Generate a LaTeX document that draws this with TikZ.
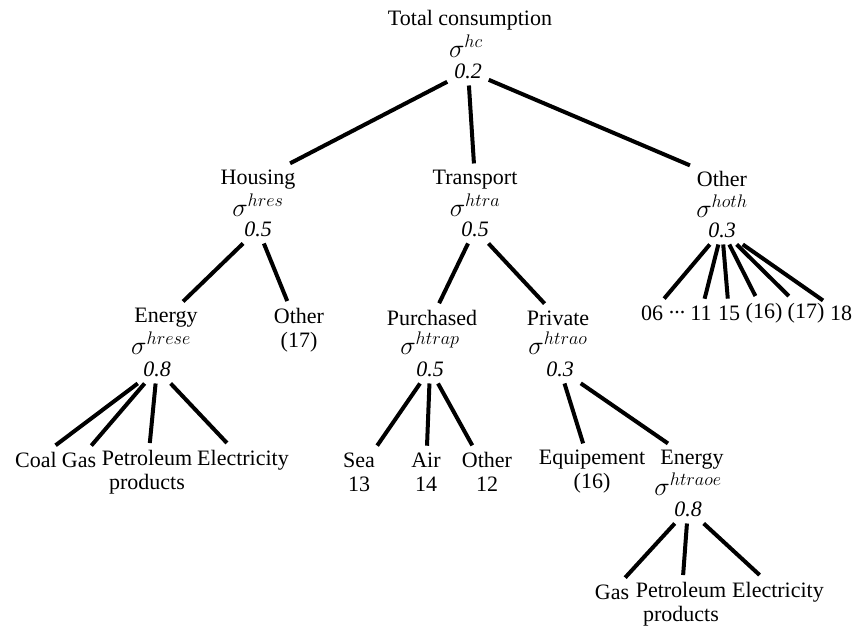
\documentclass[tikz,border=0pt]{standalone}
\usepackage{fix-cm}
\usepackage{fontspec}
\setmainfont{Liberation Serif}
\begin{document}
\begin{tikzpicture}[x=1pt,y=-1pt,line width=4pt,
    every node/.style={font=\fontsize{22}{24}\selectfont,inner sep=1pt,outer sep=6pt},
    two/.style={align=center},
    sig/.style={font=\fontsize{26}{28}\selectfont}]
    \useasboundingbox (0,0) rectangle (857,630);
    % top
    \node (tot)  at (470,20) {Total consumption};
    \node[sig] (totS) at (466,46) {$\sigma^{hc}$};
    \node (totV) at (468,71) {\textit{0.2}};
    % second level
    \node (hou)  at (258,180) {Housing};
    \node[sig] (houS) at (258,205) {$\sigma^{hres}$};
    \node (houV) at (258,229) {\textit{0.5}};
    \node (tra)  at (475,180) {Transport};
    \node[sig] (traS) at (475,205) {$\sigma^{htra}$};
    \node (traV) at (475,229) {\textit{0.5}};
    \node (oth)  at (722,179) {Other};
    \node[sig] (othS) at (722,206) {$\sigma^{hoth}$};
    \node (othV) at (722,230) {\textit{0.3}};
    % third level
    \node (hen)  at (166,318) {Energy};
    \node[sig] (henS) at (161,343) {$\sigma^{hrese}$};
    \node (henV) at (157,369) {\textit{0.8}};
    \node[two] (hot) at (299,330) {Other\\(17)};
    \node (pur)  at (432,318) {Purchased};
    \node[sig] (purS) at (430,343) {$\sigma^{htrap}$};
    \node (purV) at (430,369) {\textit{0.5}};
    \node (pri)  at (558,318) {Private};
    \node[sig] (priS) at (558,343) {$\sigma^{htrao}$};
    \node (priV) at (560,369) {\textit{0.3}};
    \node (o06)  at (652,313) {06};
    \node (dots) at (677,313) {.\kern0pt.\kern0pt.};
    \node (o11)  at (701,313) {11};
    \node (o15)  at (729,313) {15};
    \node (o16)  at (764,313) {(16)};
    \node (o17)  at (806,313) {(17)};
    \node (o18)  at (841,313) {18};
    % leaves
    \node (coal) at (36,460) {Coal};
    \node (gas)  at (79,460) {Gas};
    \node[two] (pet) at (147,472) {Petroleum\\products};
    \node (ele)  at (243,460) {Electricity};
    \node[two] (sea) at (359,472) {Sea\\13};
    \node[two] (air) at (426,472) {Air\\14};
    \node[two] (pot) at (487,472) {Other\\12};
    \node[two] (equ) at (592,472) {Equipement\\(16)};
    \node (ten)  at (692,460) {Energy};
    \node[sig] (tenS) at (688,484) {$\sigma^{htraoe}$};
    \node (tenV) at (688,509) {\textit{0.8}};
    \node (tgas) at (612,592) {Gas};
    \node[two] (tpet) at (681,604) {Petroleum\\products};
    \node (tele) at (778,592) {Electricity};
    \path%
      (totV) edge (hou)
      (totV) edge (tra)
      (totV) edge (oth)
      (houV) edge (hen)
      (houV) edge (hot)
      (traV) edge (pur)
      (traV) edge (pri)
      (othV) edge (o06)
      (othV) edge (o11)
      (othV) edge (o15)
      (othV) edge (o16)
      (othV) edge (o17)
      (othV) edge (o18)
      (henV) edge (coal)
      (henV) edge (gas)
      (henV) edge (pet)
      (henV) edge (ele)
      (purV) edge (sea)
      (purV) edge (air)
      (purV) edge (pot)
      (priV) edge (equ)
      (priV) edge (ten)
      (tenV) edge (tgas)
      (tenV) edge (tpet)
      (tenV) edge (tele);
\end{tikzpicture}
\end{document}
